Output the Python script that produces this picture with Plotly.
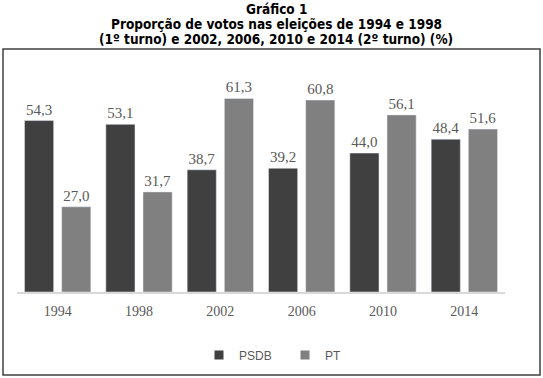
import plotly.graph_objects as go

years = ["1994", "1998", "2002", "2006", "2010", "2014"]
psdb = [54.3, 53.1, 38.7, 39.2, 44.0, 48.4]
pt = [27.0, 31.7, 61.3, 60.8, 56.1, 51.6]
title_lines = ["Gráfico 1",
               "Proporção de votos nas eleições de 1994 e 1998",
               "(1º turno) e 2002, 2006, 2010 e 2014 (2º turno) (%)"]

W, H = 543, 378
L, R, T, B = 17, 38, 71, 86

def fmt(v):
    return f"{v:.1f}".replace(".", ",")

label_font = dict(family="Liberation Serif, Times New Roman, serif", size=15, color="#595959")

fig = go.Figure()
fig.add_trace(go.Bar(name="PSDB", x=years, y=psdb, marker_color="#404040",
                     text=[fmt(v) for v in psdb], textposition="outside",
                     textfont=label_font, cliponaxis=False, showlegend=False))
fig.add_trace(go.Bar(name="PT", x=years, y=pt, marker_color="#808080",
                     text=[fmt(v) for v in pt], textposition="outside",
                     textfont=label_font, cliponaxis=False, showlegend=False))
# legend entries with small square swatches
fig.add_trace(go.Scatter(name="PSDB", x=[None], y=[None], mode="markers",
                         marker=dict(symbol="square", size=9, color="#404040")))
fig.add_trace(go.Scatter(name="PT", x=[None], y=[None], mode="markers",
                         marker=dict(symbol="square", size=9, color="#808080")))

pw = W - L - R
ph = H - T - B
def px_x(p):
    return (p - L) / pw
def px_y(p):
    return 1 - (p - T) / ph

title_font = dict(family="DejaVu Sans Condensed, DejaVu Sans, Verdana, sans-serif", size=13.5, color="black")
annotations = []
for i, s in enumerate(title_lines):
    annotations.append(dict(text=f"<b>{s}</b>", xref="paper", yref="paper",
                            x=px_x(276), y=px_y(9 + 15 * i), xanchor="center", yanchor="middle",
                            showarrow=False, font=title_font))

fig.update_layout(
    width=W, height=H,
    margin=dict(l=L, r=R, t=T, b=B, autoexpand=False),
    paper_bgcolor="white", plot_bgcolor="white",
    barmode="group", bargap=0.086, bargroupgap=0.216,
    showlegend=True,
    legend=dict(orientation="h", x=px_x(199), xanchor="left", y=px_y(355), yanchor="middle",
                entrywidth=41, entrywidthmode="pixels",
                font=dict(family="Liberation Sans, Arial, sans-serif", size=12, color="#595959"),
                traceorder="normal", bgcolor="rgba(0,0,0,0)"),
    xaxis=dict(showgrid=False, showline=True, linecolor="#d9d9d9", linewidth=1.5,
               ticks="", ticklabelstandoff=5,
               tickfont=dict(family="Liberation Serif, Times New Roman, serif", size=14, color="#595959")),
    yaxis=dict(range=[0, 70], visible=False, showgrid=False, zeroline=False),
    annotations=annotations,
    shapes=[dict(type="rect", xref="paper", yref="paper",
                 x0=px_x(3), x1=px_x(540), y0=px_y(49), y1=px_y(375),
                 line=dict(color="#404040", width=1.5), layer="below")],
)

fig.write_html("out.html")
